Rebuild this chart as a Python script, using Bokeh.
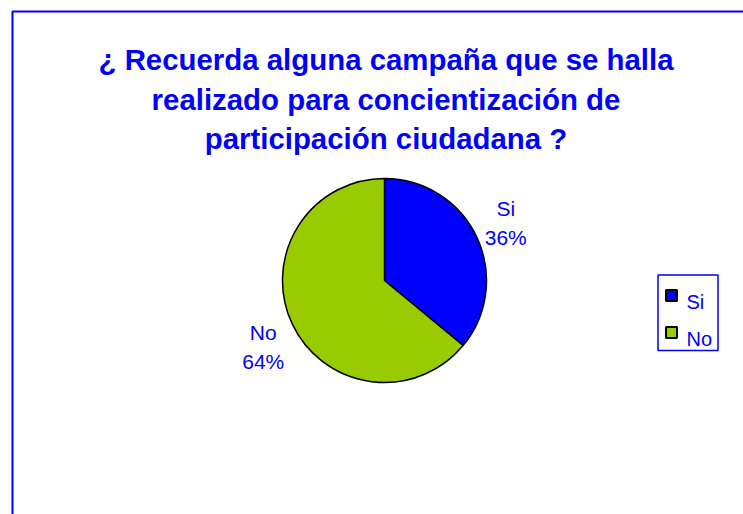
import math
from bokeh.plotting import figure
from bokeh.models import Range1d, ColumnDataSource
from bokeh.core.properties import value
from bokeh.embed import file_html
from bokeh.resources import INLINE

# ---------------- data ----------------
title_lines = ["¿ Recuerda alguna campaña que se halla",
               "realizado para concientización de",
               "participación ciudadana ?"]
categories = ["Si", "No"]
percentages = [36, 64]

# ---------------- style / layout ----------------
slice_colors = ["#0000FF", "#99CC00"]
BLUE = "#0000FF"
FONT = value("Liberation Sans")
W, H = 743, 514
X0, Y0 = 0, 0                      # page offset of the figure
CX, CY, R = 384, 280, 102          # pie centre / radius (page px)

def Y(py):                         # page y -> data y
    return -py

p = figure(width=W, height=H, output_backend="svg", toolbar_location=None,
           x_range=Range1d(X0, X0 + W), y_range=Range1d(-(Y0 + H), -Y0),
           min_border=0)
p.axis.visible = False
p.xgrid.visible = False
p.ygrid.visible = False
p.outline_line_color = None
p.background_fill_color = "white"
p.border_fill_color = "white"

# chart area border (extends beyond the window, as in the reference)
p.quad(left=[12], right=[2000], top=[Y(11)], bottom=[Y(2000)],
       fill_color=None, line_color=BLUE, line_width=2)

# title
tl_base = [59, 98.5, 138]
p.text(x=[385.5] * len(title_lines), y=[Y(b) for b in tl_base], text=title_lines,
       text_font=FONT, text_font_size="29.4px", text_font_style="bold",
       text_color=BLUE, text_align="center", text_baseline="alphabetic")

# pie
total = float(sum(percentages))
starts, ends, mids = [], [], []
cum = 0.0
for v in percentages:
    f0 = cum / total
    f1 = (cum + v) / total
    cum += v
    starts.append(math.pi / 2 - f1 * 2 * math.pi)
    ends.append(math.pi / 2 - f0 * 2 * math.pi)
    mids.append((f0 + f1) / 2 * 2 * math.pi)   # clockwise from top

src = ColumnDataSource(dict(cat=categories, pct=percentages, color=slice_colors,
                            start=starts, end=ends))
p.wedge(x=CX, y=Y(CY), radius=R, radius_units="screen",
        start_angle="start", end_angle="end", direction="anticlock",
        fill_color="color", line_color="black", line_width=1.5, source=src)

# data labels
lx, l1y, l2y, l1, l2 = [], [], [], [], []
for cat, v, m in zip(categories, percentages, mids):
    x = CX + 134 * math.sin(m)
    yc = CY - 145 * math.cos(m) - 3
    lx.append(x)
    l1y.append(Y(yc - 7))
    l2y.append(Y(yc + 22))
    l1.append(cat)
    l2.append(f"{v}%")
p.text(x=lx + lx, y=l1y + l2y, text=l1 + l2, text_font=FONT,
       text_font_size="21px", text_color=BLUE, text_align="center",
       text_baseline="alphabetic")

# legend
p.quad(left=[657.5], right=[717.5], top=[Y(274.5)], bottom=[Y(350)],
       fill_color="white", line_color=BLUE, line_width=1.5)
sq_y = [295 + 37 * i for i in range(len(categories))]
p.rect(x=[671] * len(categories), y=[Y(s) for s in sq_y], width=11, height=11,
       width_units="screen", height_units="screen",
       fill_color=slice_colors, line_color="black", line_width=2)
p.text(x=[686] * len(categories), y=[Y(s + 6) for s in sq_y], text=categories,
       text_font=FONT, text_font_size="20px", text_color=BLUE,
       text_align="left", text_baseline="alphabetic")

open("out.html", "w").write(file_html(p, INLINE))
